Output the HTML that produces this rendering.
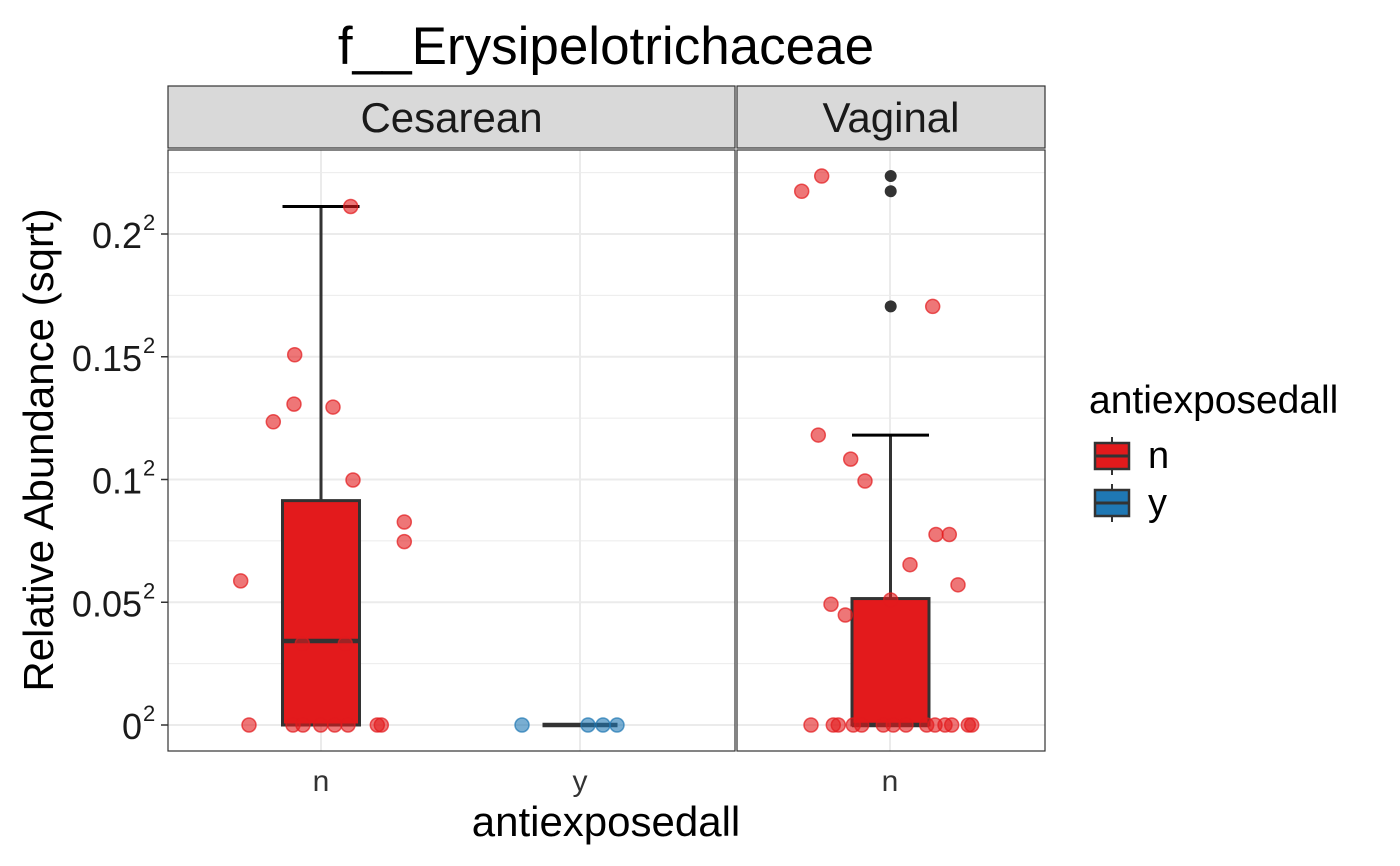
<!DOCTYPE html>
<html><head><meta charset="utf-8"><style>
html,body{margin:0;padding:0;background:#fff;}
svg{display:block;font-family:"Liberation Sans",Arial,sans-serif;}
</style></head><body>
<svg id="chart" width="1400" height="866" viewBox="0 0 1400 866" xmlns="http://www.w3.org/2000/svg">
<text x="606" y="64" font-size="53" text-anchor="middle" fill="#000">f__Erysipelotrichaceae</text>
<g id="panels"></g>
<g id="yaxis"></g>
<text x="53" y="450" font-size="42" text-anchor="middle" transform="rotate(-90 53 450)">Relative Abundance (sqrt)</text>
<text x="606" y="836" font-size="42" text-anchor="middle">antiexposedall</text>
<g>
<text x="1089" y="413" font-size="39">antiexposedall</text>
<g>
<line x1="1112" y1="437" x2="1112" y2="475" stroke="#333" stroke-width="2"/>
<rect x="1095" y="443" width="34" height="26" fill="#E31A1C" stroke="#333" stroke-width="2.5"/>
<line x1="1095" y1="456" x2="1129" y2="456" stroke="#333" stroke-width="3"/>
<text x="1148" y="468" font-size="38">n</text></g>
<g>
<line x1="1112" y1="484" x2="1112" y2="522" stroke="#333" stroke-width="2"/>
<rect x="1095" y="490" width="34" height="26" fill="#1F78B4" stroke="#333" stroke-width="2.5"/>
<line x1="1095" y1="503" x2="1129" y2="503" stroke="#333" stroke-width="3"/>
<text x="1148" y="515" font-size="38">y</text></g>
</g>
</svg>
<script>
const yTicks=[0,0.05,0.1,0.15,0.2];
const yTickLabels=["0","0.05","0.1","0.15","0.2"];
const cesNVals=[0.2112,0.1508,0.1307,0.1295,0.1235,0.0998,0.0827,0.0747,0.0587,0.0331,0.0331,0,0,0,0,0,0,0,0];
const cesNJit=[350.7,294.7,294,333,273.3,353,404.3,404.3,240.7,302.3,345.3,249,293,303,320.7,334.7,348,377.3,381.3];
const cesNBox=[0,0,0.0342,0.0914,0.2112];
const cesYVals=[0,0,0,0];
const cesYJit=[522,588,603,617];
const cesYBox=[0,0,0,0,0];
const vagVals=[0.2236,0.2174,0.1705,0.1181,0.1083,0.0994,0.0776,0.0776,0.0653,0.0571,0.0492,0.0448,0.0509,0,0,0,0,0,0,0,0,0,0,0,0,0,0];
const vagJit=[821.7,801.7,932.7,818.3,850.7,865,936,949.3,910,958,831,845.3,890.7,811,833.3,838.3,853.3,861.7,883.3,893.3,906,926.7,935,945,951.7,968.3,971.7];
const vagBox=[0,0,0,0.0515,0.1181];
const vagOutliers=[0.2236,0.2174,0.1705];
const NS="http://www.w3.org/2000/svg";
const top0=150,bot0=751;
function y(v){return 725-v*2455;}
function mk(tag,attrs,parent){const e=document.createElementNS(NS,tag);for(const k in attrs)e.setAttribute(k,attrs[k]);parent.appendChild(e);return e;}
const P=document.getElementById('panels');
const panels=[{name:'Cesarean',x0:168,x1:735,cats:[['n',321],['y',580]]},{name:'Vaginal',x0:737,x1:1045,cats:[['n',890]]}];
panels.forEach(p=>{
  const g=mk('g',{},P);
  
  
  const s=mk('rect',{x:p.x0,y:86,width:p.x1-p.x0,height:62,fill:'#D9D9D9',stroke:'#333','stroke-width':1.2},g);
  
  
  const st=mk('text',{x:(p.x0+p.x1)/2,y:132,'font-size':42,'text-anchor':'middle',fill:'#1a1a1a'},g);st.textContent=p.name;
  
  
  mk('rect',{x:p.x0,y:top0,width:p.x1-p.x0,height:bot0-top0,fill:'#fff'},g);
  for(let i=0;i<yTicks.length;i++){
    mk('line',{x1:p.x0,x2:p.x1,y1:y(yTicks[i]),y2:y(yTicks[i]),stroke:'#EBEBEB','stroke-width':2},g);
    const m=yTicks[i]+0.025; if(y(m)>top0) mk('line',{x1:p.x0,x2:p.x1,y1:y(m),y2:y(m),stroke:'#EBEBEB','stroke-width':1},g);
  }
  p.cats.forEach(c=>{
    mk('line',{x1:c[1],x2:c[1],y1:top0,y2:bot0,stroke:'#EBEBEB','stroke-width':2},g);
    const t=mk('text',{x:c[1],y:791,'font-size':30,'text-anchor':'middle',fill:'#333'},g);t.textContent=c[0];
    
    
  });
  p.g=g;
});
function box(g,cx,hw,b,fill,name){
  const bg=mk('g',{},g);
  
  
  mk('line',{x1:cx,x2:cx,y1:y(b[4]),y2:y(b[3]),stroke:'#333','stroke-width':3},bg);
  mk('line',{x1:cx-hw,x2:cx+hw,y1:y(b[4]),y2:y(b[4]),stroke:'#000','stroke-width':3},bg);
  if(b[3]>b[1]) mk('rect',{x:cx-hw,y:y(b[3]),width:2*hw,height:y(b[1])-y(b[3]),fill:fill,stroke:'#333','stroke-width':3},bg);
  mk('line',{x1:cx-hw,x2:cx+hw,y1:y(b[2]),y2:y(b[2]),stroke:'#333','stroke-width':4.5},bg);
}
function pts(g,vals,jit,col,name){
  vals.forEach((v,i)=>{
    const c=mk('circle',{cx:jit[i],cy:y(v),r:7,fill:col,'fill-opacity':0.6,stroke:col,'stroke-opacity':0.7,'stroke-width':1.5},g);
    
    
  });
}
const g0=panels[0].g,g1=panels[1].g;
box(g0,321,38.5,cesNBox,'#E31A1C','box-cesarean-n');
box(g0,580,37.5,cesYBox,'#1F78B4','box-cesarean-y');
box(g1,890.5,38.5,vagBox,'#E31A1C','box-vaginal-n');
vagOutliers.forEach(v=>{const c=mk('circle',{cx:890.7,cy:y(v),r:6,fill:'#333'},g1);
  
  });
pts(g0,cesNVals,cesNJit,'#E31A1C','point-cesarean-n');
pts(g0,cesYVals,cesYJit,'#1F78B4','point-cesarean-y');
pts(g1,vagVals,vagJit,'#E31A1C','point-vaginal-n');
panels.forEach(p=>mk('rect',{x:p.x0,y:top0,width:p.x1-p.x0,height:bot0-top0,fill:'none',stroke:'#333','stroke-width':1.2},p.g));
const Y=document.getElementById('yaxis');
yTicks.forEach((v,i)=>{
  mk('line',{x1:161,x2:168,y1:y(v),y2:y(v),stroke:'#333','stroke-width':1.5},Y);
  const t=mk('text',{x:142,y:y(v)+14,'font-size':36,'text-anchor':'end',fill:'#1a1a1a'},Y);
  t.textContent=yTickLabels[i];
  
  
  const s=mk('text',{x:143,y:y(v)-4,'font-size':22,fill:'#1a1a1a'},Y);s.textContent='2';
});
</script>
</body></html>
